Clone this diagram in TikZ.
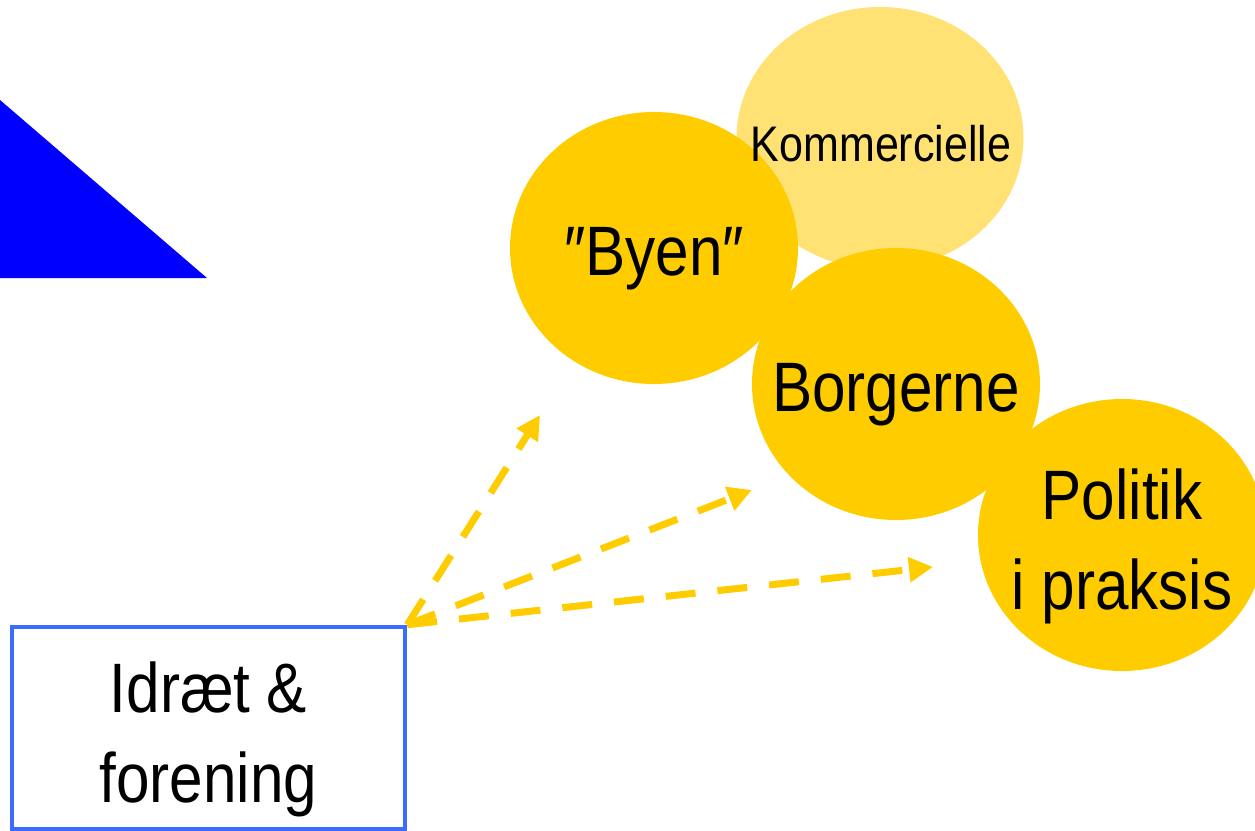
\documentclass[tikz,border=0pt]{standalone}
\usepackage{fontspec}
\setmainfont[FakeStretch=0.86]{Liberation Sans}
\usepackage{tikz}
\usetikzlibrary{shapes,arrows,positioning,calc,arrows.meta}
\usepackage{xcolor}
\definecolor{groupYellow}{RGB}{255, 204, 0}
\definecolor{groupPale}{RGB}{255, 226, 115}
\definecolor{frameBlue}{RGB}{59, 107, 255}
\definecolor{wedgeBlue}{RGB}{0, 0, 255}

\begin{document}
\begin{tikzpicture}[x=0.5pt,y=-0.5pt,
                group/.style={ellipse,fill=groupYellow,inner sep=0pt,
                              minimum width=144pt,minimum height=136pt},
                palegroup/.style={group,fill=groupPale,minimum width=143.5pt,minimum height=131pt},
                bigtext/.style={font=\fontsize{35pt}{45pt}\selectfont,align=center,
                                inner sep=0pt,yshift=-5.5pt},
                smalltext/.style={font=\fontsize{25pt}{30pt}\selectfont,inner sep=0pt},
                club/.style={draw=frameBlue,line width=2.25pt,fill=white,
                             minimum width=196.5pt,minimum height=101pt,inner sep=0pt},
                reach/.style={draw=groupYellow,line width=3.5pt,dash pattern=on 15pt off 11pt,
                              -{Triangle[length=12pt,width=12pt]}}
            ]
                \useasboundingbox (0,0) rectangle (1255,831);
                \fill[wedgeBlue] (0,100) -- (207,278) -- (0,278) -- cycle;
                \node[palegroup] (komm) at (880,138) {};
                \node[group] (byen) at (654,248) {};
                \node[bigtext] (byentext) at (byen) {″Byen″};
                \node[smalltext] (kommtext) at (881,144) {Kommercielle};
                \node[group] (borger) at (896,384) {};
                \node[bigtext] (borgertext) at (borger) {Borgerne};
                \node[group] (politik) at (1122,535) {};
                \node[bigtext] (politiktext) at (politik) {Politik\\i praksis};
                \node[club] (idraet) at (208.5,728) {};
                \node[bigtext] (idraettext) at (idraet) {Idræt \&\\forening};
                \coordinate (toByen) at (540,415);
                \coordinate (toBorger) at (752,490);
                \coordinate (toPolitik) at (933,567);
                \draw[reach] (idraet.north east) -- (toByen);
                \draw[reach] (idraet.north east) -- (toBorger);
                \draw[reach] (idraet.north east) -- (toPolitik);
            \end{tikzpicture}
\end{document}
